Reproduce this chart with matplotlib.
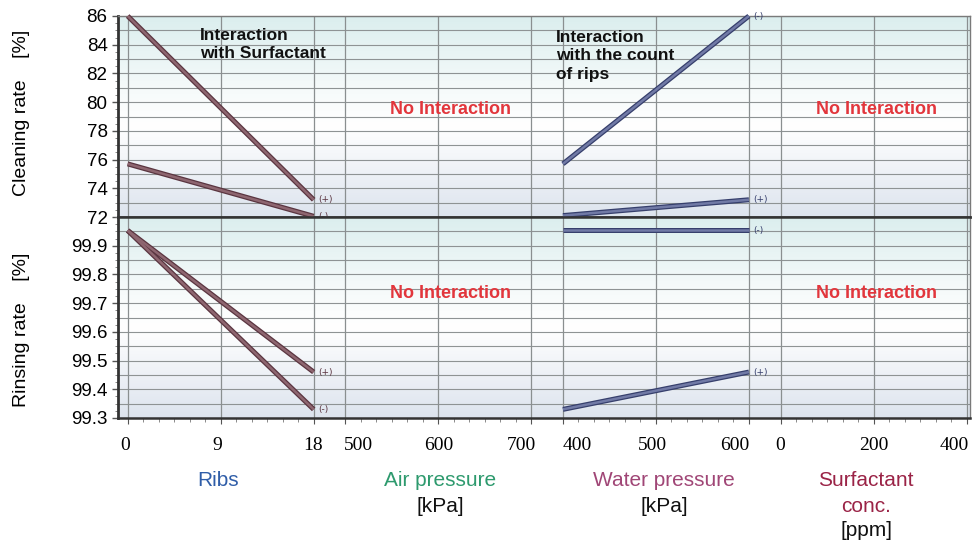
import numpy as np
import matplotlib
matplotlib.use("Agg")
import matplotlib.pyplot as plt
from matplotlib.colors import to_rgb

# ---------------- data ----------------
factors = ["Ribs", "Air pressure", "Water pressure", "Surfactant"]
factor_levels = [[0, 9, 18], [500, 600, 700], [400, 500, 600], [0, 200, 400]]
factor_ticklabels = [["0", "9", "18"], ["500", "600", "700"],
                     ["400", "500", "600"], ["0", "200", "400"]]

# Cleaning rate [%]
clean_ribs_x = [0, 18]
clean_ribs_plus = [86.0, 73.2]
clean_ribs_minus = [75.7, 72.05]
clean_water_x = [400, 600]
clean_water_minus = [75.7, 86.0]
clean_water_plus = [72.1, 73.2]

# Rinsing rate [%]
rinse_ribs_x = [0, 18]
rinse_ribs_plus = [99.953, 99.46]
rinse_ribs_minus = [99.953, 99.33]
rinse_water_x = [400, 600]
rinse_water_minus = [99.953, 99.953]
rinse_water_plus = [99.33, 99.46]

clean_ticks = [72, 74, 76, 78, 80, 82, 84, 86]
rinse_ticks = [99.3, 99.4, 99.5, 99.6, 99.7, 99.8, 99.9]

# ---------------- layout helpers ----------------
seg_start = [0.0, 2.34, 4.68, 7.02]
seg_width = 2.0
XL = (-0.104, 9.057)
# pixel nudges of the x tick labels (as in the reference)
label_dx = [[-3, -3, -1], [13, 0, -10], [14, -3, -14], [0, 0, -12]]


def to_u(seg, vals):
    lo, hi = factor_levels[seg][0], factor_levels[seg][-1]
    return [seg_start[seg] + (v - lo) / (hi - lo) * seg_width for v in vals]


W, H = 973, 544
fig = plt.figure(figsize=(W / 100, H / 100), dpi=100)
L, R = 118 / W, 970 / W
y_top, y_mid, y_bot = 1 - 16 / H, 1 - 217 / H, 1 - 418 / H
ax1 = fig.add_axes([L, y_mid, R - L, y_top - y_mid])
ax2 = fig.add_axes([L, y_bot, R - L, y_mid - y_bot])


def gradient_bg(ax):
    stops = [(0.0, "#dbeeee"), (0.35, "#f5fafa"), (0.55, "#ffffff"),
             (1.0, "#dde4ee")]
    n = 256
    t = np.linspace(0, 1, n)
    cols = np.zeros((n, 1, 3))
    for c in range(3):
        cols[:, 0, c] = np.interp(t, [s[0] for s in stops],
                                  [to_rgb(s[1])[c] for s in stops])
    ax.imshow(cols, extent=[0, 1, 0, 1], transform=ax.transAxes,
              aspect="auto", zorder=0, interpolation="bilinear")


all_u = []
for s in range(4):
    all_u += to_u(s, factor_levels[s])

minor_u = []
for s in range(4):
    minor_u += [seg_start[s] + k / 6 for k in range(13)]

sans = ["Liberation Sans", "DejaVu Sans"]
serif = ["Liberation Serif", "DejaVu Serif"]
narrow = ["Liberation Sans Narrow", "Liberation Sans", "DejaVu Sans"]

for ax, ylim, major, minor_step in [(ax1, (72, 86), 1.0, 0.5),
                                    (ax2, (99.3, 100.0), 0.05, 0.025)]:
    gradient_bg(ax)
    ax.set_xlim(*XL)
    ax.set_ylim(*ylim)
    for yv in np.arange(ylim[0], ylim[1] + 1e-9, major):
        ax.axhline(yv, color="#8e9394", lw=0.8, zorder=1)
    for u in all_u:
        ax.axvline(u, color="#8a8f90", lw=0.9, zorder=1)
    ax.set_yticks(np.arange(ylim[0], ylim[1] + 1e-9, minor_step), minor=True)
    ax.tick_params(axis="y", which="major", direction="out", length=4,
                   width=1, color="#555555", labelsize=13.5)
    ax.tick_params(axis="y", which="minor", direction="out", length=2,
                   width=0.6, color="#777777")
    for sp in ["top", "right"]:
        ax.spines[sp].set_color("#7a7a7a")
        ax.spines[sp].set_linewidth(1.0)
    ax.spines["left"].set_color("#333333")
    ax.spines["left"].set_linewidth(2.0)
    ax.spines["bottom"].set_color("#333333")
    ax.spines["bottom"].set_linewidth(1.8)

ax1.set_yticks(clean_ticks)
ax1.set_yticklabels([str(v) for v in clean_ticks])
ax1.set_xticks([])
ax2.set_yticks(rinse_ticks)
ax2.set_yticklabels([f"{v:.1f}" for v in rinse_ticks])
ax2.spines["top"].set_color("#333333")
ax2.spines["top"].set_linewidth(1.8)
ax2.set_xticks(all_u)
ax2.set_xticklabels([])
ax2.set_xticks(minor_u, minor=True)
ax2.tick_params(axis="x", which="major", direction="out", length=4,
                color="#555555")
ax2.tick_params(axis="x", which="minor", direction="out", length=3,
                width=0.6, color="#777777")
for lab in list(ax1.get_yticklabels()) + list(ax2.get_yticklabels()):
    lab.set_family(sans)

# x tick labels (serif, nudged as in the reference)
for s in range(4):
    us = to_u(s, factor_levels[s])
    for u, lab, dx in zip(us, factor_ticklabels[s], label_dx[s]):
        ax2.annotate(lab, xy=(u, 0), xycoords=("data", "axes fraction"),
                     xytext=(dx, -28), textcoords="offset pixels",
                     ha="center", va="center", fontsize=14, family=serif,
                     annotation_clip=False)

RIB_OUT, RIB_IN = "#5a3540", "#8e6670"
WAT_OUT, WAT_IN = "#363f6c", "#717aa6"


def draw(ax, seg, xs, ys, outc, inc, tag):
    u = to_u(seg, xs)
    ax.plot(u, ys, color=outc, lw=3.6, solid_capstyle="butt", zorder=4,
            clip_on=False)
    ax.plot(u, ys, color=inc, lw=1.8, solid_capstyle="butt", zorder=5,
            clip_on=False)
    ax.annotate(tag, (u[-1], ys[-1]), xytext=(3, 0),
                textcoords="offset points", va="center", ha="left",
                fontsize=6.5, color=outc, zorder=6)


draw(ax1, 0, clean_ribs_x, clean_ribs_plus, RIB_OUT, RIB_IN, "(+)")
draw(ax1, 0, clean_ribs_x, clean_ribs_minus, RIB_OUT, RIB_IN, "(-)")
draw(ax1, 2, clean_water_x, clean_water_minus, WAT_OUT, WAT_IN, "(-)")
draw(ax1, 2, clean_water_x, clean_water_plus, WAT_OUT, WAT_IN, "(+)")
draw(ax2, 0, rinse_ribs_x, rinse_ribs_plus, RIB_OUT, RIB_IN, "(+)")
draw(ax2, 0, rinse_ribs_x, rinse_ribs_minus, RIB_OUT, RIB_IN, "(-)")
draw(ax2, 2, rinse_water_x, rinse_water_minus, WAT_OUT, WAT_IN, "(-)")
draw(ax2, 2, rinse_water_x, rinse_water_plus, WAT_OUT, WAT_IN, "(+)")


def ftext(px, py, s, **kw):
    fig.text(px / W, 1 - py / H, s, **kw)


# annotations
ftext(200, 45, "Interaction\nwith Surfactant", fontsize=12.5,
      fontweight="bold", family=sans, va="center", ha="left",
      linespacing=1.25, color="#111111")
ftext(556, 56, "Interaction\nwith the count\nof rips", fontsize=12.5,
      fontweight="bold", family=sans, va="center", ha="left",
      linespacing=1.25, color="#111111")
for (px, py) in [(450, 110), (877, 110), (450, 293), (877, 293)]:
    ftext(px, py, "No Interaction", fontsize=13, fontweight="bold",
          family=sans, color="#e2363c", ha="center", va="center")

# y labels
ftext(22, 113, "Cleaning rate    [%]", rotation=90, fontsize=14,
      family=sans, ha="center", va="center")
ftext(22, 330, "Rinsing rate    [%]", rotation=90, fontsize=14,
      family=sans, ha="center", va="center")

# factor names
FS = 15
ftext(218, 481, "Ribs", color="#2f5da8", fontsize=FS, family=narrow,
      ha="center", va="center")
ftext(440, 481, "Air pressure", color="#2e9a6e", fontsize=FS,
      family=narrow, ha="center", va="center")
ftext(440, 506, "[kPa]", color="#111111", fontsize=FS, family=narrow,
      ha="center", va="center")
ftext(664, 481, "Water pressure", color="#a04676", fontsize=FS,
      family=narrow, ha="center", va="center")
ftext(664, 506, "[kPa]", color="#111111", fontsize=FS, family=narrow,
      ha="center", va="center")
ftext(866, 481, "Surfactant", color="#9a2346", fontsize=FS,
      family=narrow, ha="center", va="center")
ftext(866, 506, "conc.", color="#9a2346", fontsize=FS, family=narrow,
      ha="center", va="center")
ftext(866, 531, "[ppm]", color="#111111", fontsize=FS, family=narrow,
      ha="center", va="center")

fig.savefig("out.png", dpi=100)
